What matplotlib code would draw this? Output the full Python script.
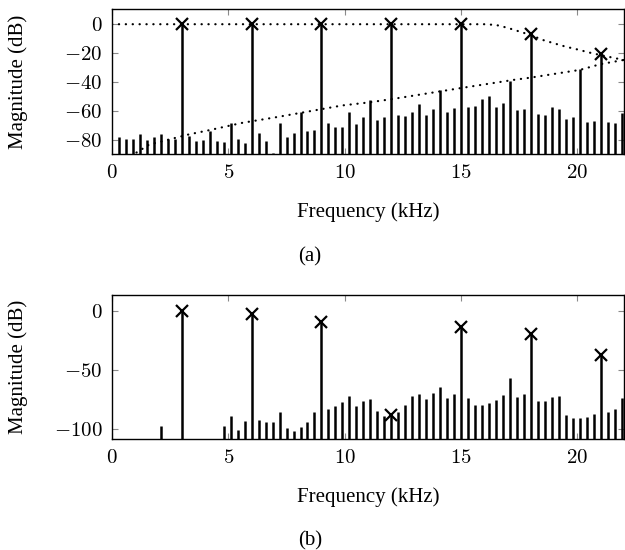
import numpy as np
import matplotlib
matplotlib.use("Agg")
import matplotlib.pyplot as plt

plt.rcParams['mathtext.fontset'] = 'cm'
plt.rcParams['font.family'] = ['Liberation Serif', 'DejaVu Serif']

# ---------------- data ----------------
bin_step_khz = 0.3
freqs = [round(bin_step_khz * k, 1) for k in range(1, 74)]

spectrum_a = [
    -77.9, -79.0, -79.0, -75.7, -79.8, -77.7, -75.9, -79.0, -79.0, 0.0,
    -77.3, -80.3, -79.6, -73.6, -80.3, -81.4, -68.0, -78.9, -81.6, 0.0,
    -74.7, -80.5, -89.0, -68.0, -77.5, -74.7, -60.5, -73.4, -72.7, 0.0,
    -68.0, -70.8, -71.0, -60.5, -68.5, -64.3, -52.2, -66.2, -63.9, 0.0,
    -62.8, -63.5, -60.5, -55.2, -62.3, -58.4, -45.1, -60.7, -57.7, 0.0,
    -57.0, -56.6, -51.5, -49.2, -56.8, -54.3, -39.1, -59.3, -58.2, -6.9,
    -61.9, -62.3, -57.0, -58.2, -65.3, -63.9, -30.6, -67.4, -66.5, -20.7,
    -67.4, -67.8, -61.2,
]

nan = float('nan')
spectrum_b = [
    nan, nan, nan, nan, nan, nan, -97.8, nan, nan, 0.0,
    nan, nan, nan, nan, nan, -97.2, -88.8, -100.6, -93.6, -2.8,
    -92.2, -93.9, -93.9, -85.4, -98.9, -101.4, -98.6, -93.9, -85.4, -9.3,
    -83.4, -80.9, -77.0, -72.2, -80.9, -75.9, -74.2, -84.9, -88.8, -87.9,
    -85.4, -79.8, -71.7, -70.0, -74.5, -69.7, -64.9, -73.6, -70.5, -13.5,
    -73.6, -79.8, -79.8, -78.4, -75.3, -71.4, -57.3, -72.8, -70.5, -19.9,
    -76.1, -76.1, -73.0, -72.2, -88.2, -90.5, -91.0, -89.6, -87.1, -37.4,
    -85.7, -83.1, -73.6,
]

harm_freqs = [3, 6, 9, 12, 15, 18, 21]
harm_a = [0.0, 0.0, 0.0, 0.0, 0.0, -6.9, -20.7]
harm_b = [0.0, -2.8, -9.3, -87.9, -13.5, -19.9, -37.4]

# filter response (upper dotted curve)
resp_f = [0, 15, 16, 16.5, 17, 17.5, 18, 18.5, 19, 19.5, 20, 20.5, 21, 21.5, 22]
resp_db = [0, 0, 0, -0.5, -2.5, -5.0, -7.5, -10.8, -13.2, -15.5, -17.4, -19.5, -21.3, -23.0, -24.7]

# masking/noise threshold (lower dotted curve)
thr_f = [0.8, 1.0, 1.6, 3.3, 4.2, 5.6, 7.1, 8.5, 9.9, 11.0, 12.0, 15.0, 17.25, 18.0, 20.1, 21.0, 22.0]
thr_db = [-91, -89, -83, -76, -73, -68, -64, -60, -56, -54, -51.7, -44, -38.4, -36.8, -31.5, -27.5, -24.6]

xticks = [0, 5, 10, 15, 20]
yticks_a = [0, -20, -40, -60, -80]
yticks_b = [0, -50, -100]

xlabel = 'Frequency (kHz)'
ylabel = 'Magnitude (dB)'

# ---------------- figure ----------------
W, H = 625, 550
fig = plt.figure(figsize=(W / 100, H / 100), dpi=100)

def px_axes(l, t, r, b):
    return fig.add_axes([l / W, 1 - b / H, (r - l) / W, (b - t) / H])

ax_a = px_axes(112, 9, 624, 154)
ax_b = px_axes(112, 295, 624, 439)

fs = 15
bar_lw = 1.8

def style(ax, ylim, yticks):
    ax.set_xlim(0, 22)
    ax.set_ylim(*ylim)
    ax.set_xticks(xticks)
    ax.set_xticklabels([f'${v}$' for v in xticks], fontsize=fs)
    ax.set_yticks(yticks)
    ax.set_yticklabels([f'${v}$'.replace('-', '-') for v in yticks], fontsize=fs)
    ax.tick_params(direction='in', length=4.5, width=0.8, color='#8a8a8a',
                   top=True, right=True, pad=7)
    for s in ax.spines.values():
        s.set_linewidth(1.0)
        s.set_color('black')
    ax.set_ylabel(ylabel, fontsize=fs)
    ax.yaxis.set_label_coords(-0.165, 0.5)

def bars(ax, vals, ybot):
    f = np.array(freqs)
    v = np.array(vals, dtype=float)
    m = ~np.isnan(v)
    ax.vlines(f[m], ybot, v[m], colors='black', linewidth=bar_lw, zorder=3)

# (a)
bars(ax_a, spectrum_a, -95)
ax_a.plot(resp_f, resp_db, color='black', lw=1.6, linestyle=(0, (0.1, 3.0)),
          dash_capstyle='round', zorder=4)
ax_a.plot(thr_f, thr_db, color='black', lw=1.6, linestyle=(0, (0.1, 3.0)),
          dash_capstyle='round', zorder=4)
ax_a.plot(harm_freqs, harm_a, linestyle='none', marker='x', color='black',
          markersize=9, markeredgewidth=1.6, zorder=5)
style(ax_a, (-89.5, 10.5), yticks_a)

# (b)
bars(ax_b, spectrum_b, -115)
ax_b.plot(harm_freqs, harm_b, linestyle='none', marker='x', color='black',
          markersize=9, markeredgewidth=1.6, zorder=5)
style(ax_b, (-108.4, 13.2), yticks_b)

fig.text(368 / W, 1 - 212 / H, xlabel, ha='center', va='center', fontsize=fs)
fig.text(368 / W, 1 - 497 / H, xlabel, ha='center', va='center', fontsize=fs)
fig.text(310 / W, 1 - 257 / H, '(a)', ha='center', va='center', fontsize=fs)
fig.text(310 / W, 1 - 541 / H, '(b)', ha='center', va='center', fontsize=fs)

fig.savefig('out.png', dpi=100)
